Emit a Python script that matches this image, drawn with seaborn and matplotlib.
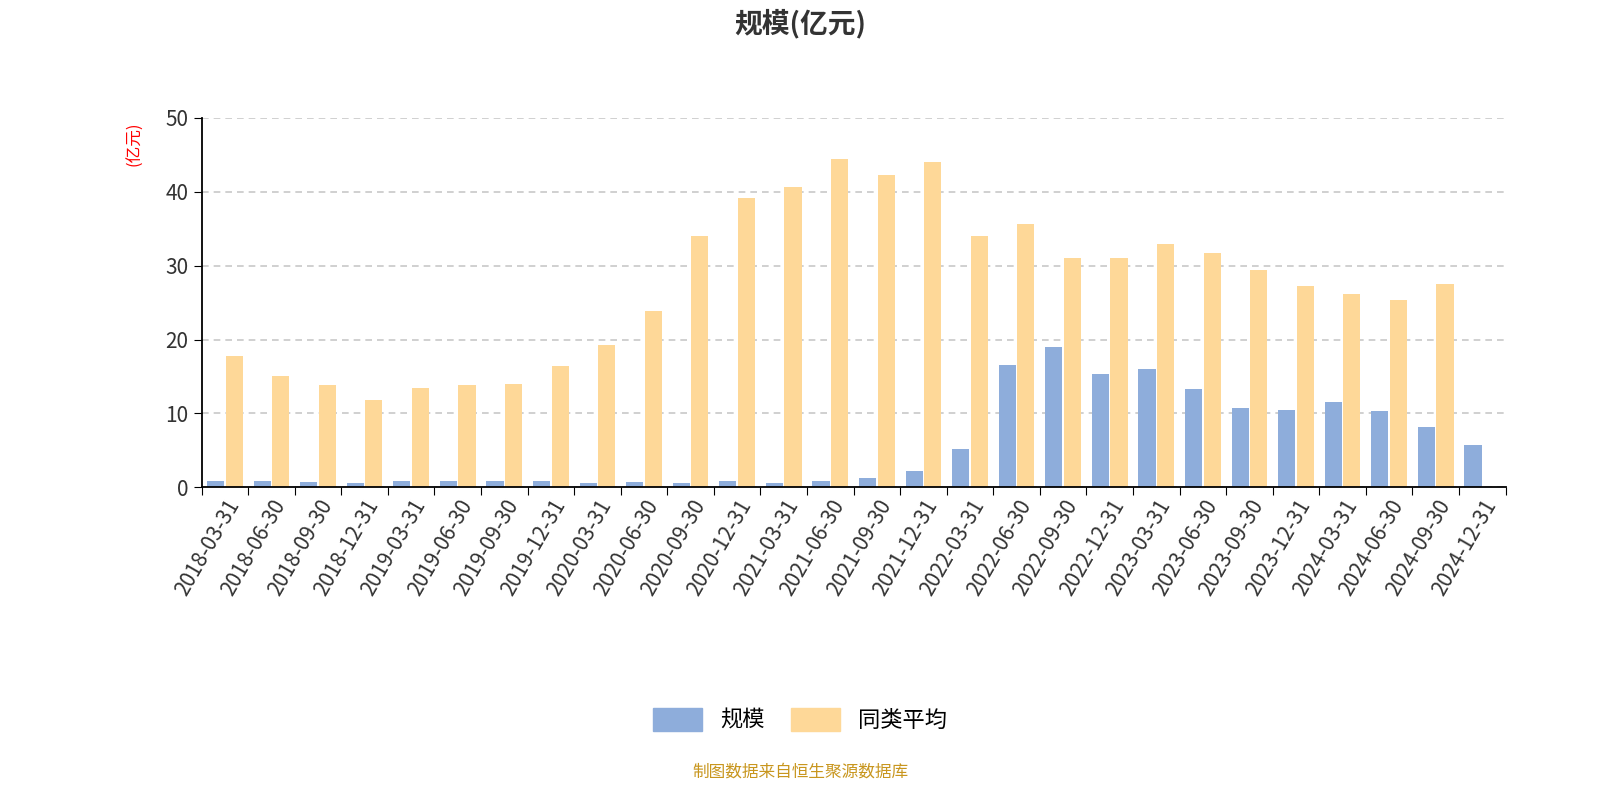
import numpy as np
import pandas as pd
import matplotlib.pyplot as plt
import seaborn as sns
from matplotlib.patches import Patch

plt.rcParams['font.family'] = ['Noto Sans CJK JP', 'Noto Sans CJK SC', 'Noto Sans CJK TC',
                               'Noto Sans CJK KR', 'DejaVu Sans']

dates = ['2018-03-31', '2018-06-30', '2018-09-30', '2018-12-31',
         '2019-03-31', '2019-06-30', '2019-09-30', '2019-12-31',
         '2020-03-31', '2020-06-30', '2020-09-30', '2020-12-31',
         '2021-03-31', '2021-06-30', '2021-09-30', '2021-12-31',
         '2022-03-31', '2022-06-30', '2022-09-30', '2022-12-31',
         '2023-03-31', '2023-06-30', '2023-09-30', '2023-12-31',
         '2024-03-31', '2024-06-30', '2024-09-30', '2024-12-31']
scale = [0.9, 0.8, 0.7, 0.6, 0.9, 0.8, 0.8, 0.8, 0.6, 0.7, 0.6, 0.8, 0.6, 0.9,
         1.2, 2.2, 5.2, 16.5, 19.0, 15.3, 16.0, 13.3, 10.7, 10.5, 11.6, 10.3, 8.1, 5.7]
peer_avg = [17.8, 15.1, 13.8, 11.8, 13.4, 13.8, 14.0, 16.4, 19.3, 23.9, 34.0, 39.2,
            40.7, 44.5, 42.3, 44.0, 34.0, 35.7, 31.1, 31.1, 33.0, 31.7, 29.4, 27.3,
            26.2, 25.3, 27.5, np.nan]

df = pd.DataFrame({'date': dates * 2,
                   'value': scale + peer_avg,
                   'series': ['规模'] * len(dates) + ['同类平均'] * len(dates)})

fig = plt.figure(figsize=(16, 8), dpi=100)
ax = fig.add_axes([0.126, 0.391, 0.815, 0.4615])
sns.barplot(data=df, x='date', y='value', hue='series', ax=ax,
            palette=['#8eaddb', '#fed898'], saturation=1, width=0.8, gap=0.08,
            legend=False)

ax.set_ylim(0, 50)
ax.set_yticks(range(0, 51, 10))
ax.set_xlim(-0.5, len(dates) - 0.5)
ax.yaxis.grid(True, linestyle=(0, (4, 3)), color='#c8c8c8', linewidth=1.2)
ax.set_axisbelow(True)
for s in ['top', 'right']:
    ax.spines[s].set_visible(False)
ax.spines['left'].set_linewidth(1.3)
ax.spines['bottom'].set_linewidth(1.3)
ax.set_xticks(np.arange(len(dates) + 1) - 0.5, minor=False)
ax.set_xticklabels([''] * (len(dates) + 1))
ax.set_xticks(np.arange(len(dates)), minor=True)
ax.set_xticklabels(dates, minor=True, rotation=60, ha='right',
                   rotation_mode='anchor', fontsize=15, color='#333333')
ax.tick_params(axis='x', which='minor', length=0, pad=6)
ax.tick_params(axis='x', which='major', length=6)
ax.tick_params(axis='y', labelsize=15, labelcolor='#333333', length=6)
ax.set_xlabel('')
ax.set_ylabel('(亿元)', color='red', fontsize=12)
ax.yaxis.set_label_coords(-0.045, 0.93)

fig.text(0.5, 0.97, '规模(亿元)', ha='center', va='center', fontsize=20,
         fontweight='bold', color='#333333')

handles = [Patch(facecolor='#8eaddb', edgecolor='#8eaddb', label='规模'),
           Patch(facecolor='#fed898', edgecolor='#fed898', label='同类平均')]
fig.legend(handles=handles, loc='center', bbox_to_anchor=(0.5, 0.1), ncol=2,
           frameon=False, fontsize=16, handlelength=2.2, handleheight=1.2,
           columnspacing=1.2)
fig.text(0.5, 0.035, '制图数据来自恒生聚源数据库', ha='center', va='center',
         fontsize=12, color='#c8961e')

fig.savefig('out.png')
